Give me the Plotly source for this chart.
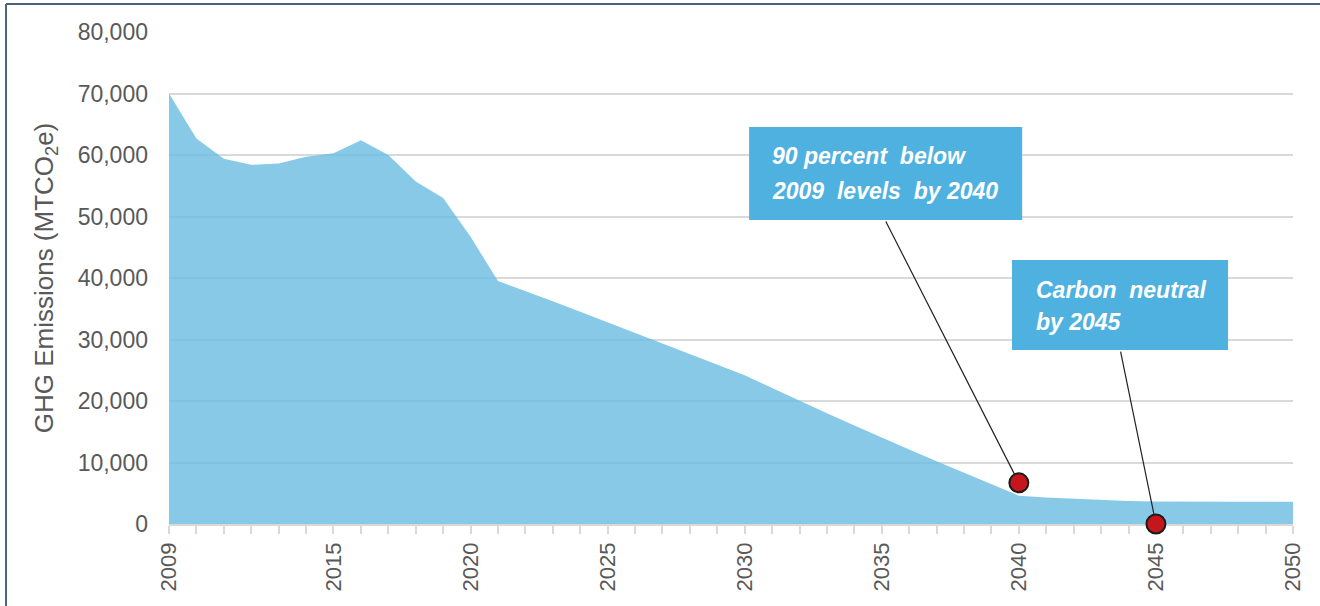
import plotly.graph_objects as go

years = list(range(2009, 2051))
emissions = [70000, 62700, 59400, 58400, 58600, 59700, 60300, 62400, 60000, 55700,
             53000, 46700, 39500, 37900, 36200, 34500, 32800, 31100, 29400, 27700,
             26000, 24200, 22100, 20000, 18000, 16000, 14000, 12100, 10200, 8300,
             6400, 4600, 4300, 4100, 3900, 3750, 3650, 3600, 3600, 3600, 3600, 3600]

x_tickvals = [2009, 2015, 2020, 2025, 2030, 2035, 2040, 2045, 2050]
y_tickvals = [0, 10000, 20000, 30000, 40000, 50000, 60000, 70000, 80000]

milestone_years = [2040, 2045]
milestone_values = [6700, 0]

box1_lines = ["90 percent\u00a0 below", "2009\u00a0 levels\u00a0 by 2040"]
box2_lines = ["Carbon\u00a0 neutral", "by 2045"]

TXT = "#595959"
GRID = "#D9D9D9"
BOX = "#4FB1E0"
FONT = "Liberation Sans, Arial, sans-serif"

fig = go.Figure()
fig.add_trace(go.Scatter(
    x=years, y=emissions, mode="lines", line=dict(width=0),
    fill="tozeroy", fillcolor="rgba(108,188,226,0.8)", hoverinfo="skip",
    showlegend=False))

# callout boxes
fig.add_shape(type="rect", xref="x", yref="y", x0=2030.16, x1=2040.12,
              y0=49430, y1=64550, fillcolor=BOX, line=dict(width=0), layer="above")
fig.add_shape(type="rect", xref="x", yref="y", x0=2039.75, x1=2047.63,
              y0=28290, y1=42930, fillcolor=BOX, line=dict(width=0), layer="above")

tfont = dict(family=FONT, size=23, color="white", style="italic", weight="bold")
for txt, yy in zip(box1_lines, [59840, 54200]):
    fig.add_annotation(x=2030.93, y=yy, xref="x", yref="y", text=txt, showarrow=False,
                       xanchor="left", yanchor="middle", font=tfont)
for txt, yy in zip(box2_lines, [38000, 32800]):
    fig.add_annotation(x=2040.56, y=yy, xref="x", yref="y", text=txt, showarrow=False,
                       xanchor="left", yanchor="middle", font=tfont)

# leader lines
fig.add_annotation(x=milestone_years[0], y=milestone_values[0], ax=2035.12, ay=49430,
                   xref="x", yref="y", axref="x", ayref="y", text="", showarrow=True,
                   arrowhead=0, arrowwidth=1.2, arrowcolor="#222222", standoff=10)
fig.add_annotation(x=milestone_years[1], y=milestone_values[1], ax=2043.7, ay=28290,
                   xref="x", yref="y", axref="x", ayref="y", text="", showarrow=True,
                   arrowhead=0, arrowwidth=1.2, arrowcolor="#222222", standoff=10)

# frame (top and left edges)
fig.add_shape(type="line", xref="paper", yref="paper", x0=-0.145, x1=-0.145,
              y0=-0.3, y1=1.057, line=dict(color="#4A6578", width=2))
fig.add_shape(type="line", xref="paper", yref="paper", x0=-0.145, x1=1.1,
              y0=1.057, y1=1.057, line=dict(color="#4A6578", width=2))

fig.add_trace(go.Scatter(
    x=milestone_years, y=milestone_values, mode="markers",
    marker=dict(size=19, color="#C4161C", line=dict(color="#1a1a1a", width=2)),
    cliponaxis=False, showlegend=False))

fig.update_layout(
    width=1320, height=606,
    margin=dict(l=169, r=27, t=32, b=82),
    paper_bgcolor="white", plot_bgcolor="white",
    font=dict(family=FONT, color=TXT, size=22),
    xaxis=dict(range=[2009, 2050], tickvals=x_tickvals, tickangle=-90,
               showgrid=False, zeroline=False, layer="below traces",
               showline=True, linecolor=GRID, linewidth=1.5,
               ticks="outside", ticklen=8, tickcolor=GRID, tickwidth=1.5,
               tickfont=dict(size=22, color=TXT),
               minor=dict(tick0=2009, dtick=1, ticks="outside", ticklen=8,
                          tickcolor=GRID, tickwidth=1.5, showgrid=False)),
    yaxis=dict(range=[0, 80000], tickvals=y_tickvals, tickformat=",",
               showgrid=True, gridcolor=GRID, gridwidth=1.5, zeroline=False,
               showline=False, ticks="", ticklabelstandoff=20,
               tickfont=dict(size=23, color=TXT),
               title=dict(text="GHG Emissions (MTCO<sub>2</sub>e)",
                          font=dict(size=26, color=TXT), standoff=16)),
)

fig.write_html("out.html")
